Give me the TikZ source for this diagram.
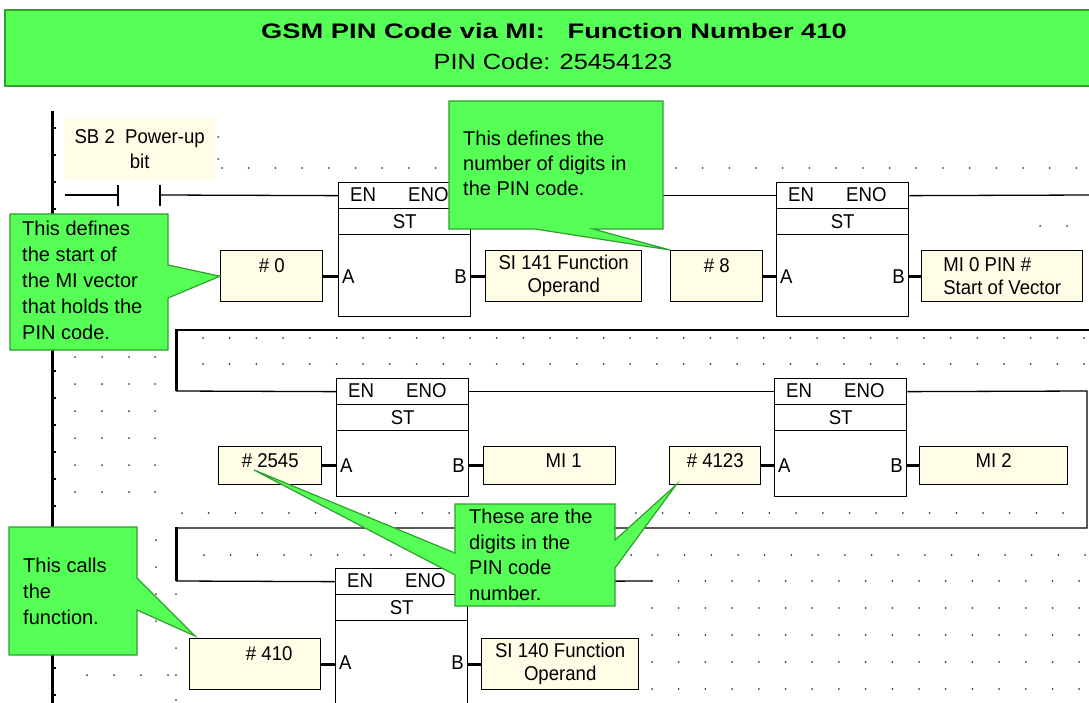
\documentclass[tikz,border=0pt]{standalone}
\usepackage{fontspec}
\setmainfont{Liberation Sans}
\newfontfamily\headfont[FakeStretch=1.3]{Liberation Sans}
\newfontfamily\subheadfont[FakeStretch=1.15]{Liberation Sans}
\newfontfamily\ladderfont[FakeStretch=0.93]{Liberation Sans}
\definecolor{notegreen}{HTML}{55FF55}
\definecolor{noteedge}{HTML}{2F9F2F}
\definecolor{tagfill}{HTML}{FFFDE6}
\definecolor{griddot}{HTML}{404040}

\tikzset{
  wire/.style={line width=1.3pt},
  stub/.style={line width=2.8pt},
  railline/.style={line width=3pt},
  rowbox/.style={draw, line width=1.3pt, minimum width=132pt, minimum height=26pt, inner sep=0pt, font=\ladderfont\fontsize{20}{22}\selectfont},
  pinlbl/.style={inner sep=0pt, font=\ladderfont\fontsize{20}{22}\selectfont},
  tagbox/.style={draw, line width=1.4pt, fill=tagfill, inner sep=0pt, anchor=north west, align=center, font=\ladderfont\fontsize{20}{23}\selectfont},
  onetop/.style={text height=14pt, text depth=#1},
  callout/.style={fill=notegreen, draw=noteedge, line width=1.2pt, line join=miter},
  notetext/.style={anchor=north west, align=left, inner sep=0pt},
  pics/stblock/.style 2 args={code={
    \node[rowbox, anchor=north west] (-top) at (0,0) {};
    \node[pinlbl, anchor=west] at (12,13) {EN};
    \node[pinlbl, anchor=west] at (70,13) {ENO};
    \node[rowbox, anchor=north west] (-st) at (0,26) {ST};
    \node[rowbox, anchor=north west, minimum height=#1] (-body) at (0,52) {};
    \node[pinlbl, anchor=west] (-a) at (4,52+#2) {A};
    \node[pinlbl, anchor=east] (-b) at (129,52+#2) {B};
  }}
}

\begin{document}
\begin{tikzpicture}[x=1pt, y=-1pt]
\useasboundingbox (0,0) rectangle (1089,703);
\fill[white] (0,0) rectangle (1089,703);

% title bar
\filldraw[fill=notegreen, draw=noteedge, line width=1.5pt] (5,10) rectangle (1095,86);
\node[font=\headfont\bfseries\fontsize{21}{24}\selectfont] (title) at (554,31) {GSM PIN Code via MI:\ \ \ Function Number 410};
\node[font=\subheadfont\fontsize{22}{24}\selectfont] (subtitle) at (553,62) {PIN Code: 25454123};

% grid dots
\foreach \y in {137,159} \fill[griddot] (218,\y) circle[radius=1pt];
\foreach \x in {222,248.7,...,1086} \fill[griddot] (\x,168) circle[radius=1pt];
\foreach \x in {1040,1067} \fill[griddot] (\x,226) circle[radius=1pt];
\foreach \y in {338,364}
  \foreach \x in {203,229.7,...,1086} \fill[griddot] (\x,\y) circle[radius=1pt];
\foreach \y in {357,384,...,513}
  \foreach \x in {75,102,129,155} \fill[griddot] (\x,\y) circle[radius=1pt];
\foreach \x in {182,208.7,...,1086} \fill[griddot] (\x,513) circle[radius=1pt];
\foreach \x in {204,230.7,...,1086} \fill[griddot] (\x,555) circle[radius=1pt];
\foreach \y in {581,608,635,662,689}
  \foreach \x in {652,678.7,...,1086} \fill[griddot] (\x,\y) circle[radius=1pt];
\foreach \y in {540,567,594,621} \fill[griddot] (156,\y) circle[radius=1pt];
\foreach \y in {594,621,648,675,700} \fill[griddot] (176,\y) circle[radius=1pt];
\foreach \x in {87,114,141,168} \fill[griddot] (\x,675) circle[radius=1pt];

% power rail
\draw[railline] (52,111) -- (52,705);
\foreach \y in {128,155,...,700} \draw[wire] (52,\y) -- (56,\y);

% rung 1
\node[fill=tagfill, anchor=north west, minimum width=151pt, minimum height=62pt, inner sep=0pt, align=center, font=\ladderfont\fontsize{20}{25}\selectfont] (sb2) at (64,118) {SB 2\ \ Power-up\\bit};
\coordinate (c0) at (65,195);
\coordinate (cl) at (118,195);
\coordinate (cr) at (160,195);
\draw[wire] (c0) -- (cl);
\draw[wire] (118,185) -- (118,206);
\draw[wire] (160,185) -- (160,206);
\pic (fb1) at (338,182) {stblock={82}{43}};
\pic (fb2) at (776,182) {stblock={82}{43}};
\draw[wire] (cr) -- (fb1-top.west);
\draw[wire] (fb1-top.east) -- (fb2-top.west);
\coordinate (r1) at (1092,195);
\draw[wire] (fb2-top.east) -- (r1);
\node[tagbox, onetop=21pt, minimum width=102pt, minimum height=51pt] (in1) at (220,250) {\# 0};
\node[tagbox, minimum width=156pt, minimum height=51pt] (out1) at (485,250) {SI 141 Function\\Operand};
\node[tagbox, onetop=21pt, minimum width=92pt, minimum height=51pt] (in2) at (670,250) {\# 8};
\node[tagbox, align=left, minimum width=161pt, minimum height=51pt] (out2) at (921,250) {MI 0 PIN \#\\Start of Vector};
\draw[stub] (in1.east) -- (in1.east -| fb1-body.west);
\draw[stub] (fb1-body.east |- out1.west) -- (out1.west);
\draw[stub] (in2.east) -- (in2.east -| fb2-body.west);
\draw[stub] (fb2-body.east |- out2.west) -- (out2.west);

% rung 2
\coordinate (w1) at (1092,330);
\coordinate (w2) at (176,330);
\coordinate (w3) at (176,391);
\draw[wire] (w1) -- (w2);
\draw[railline] (176,329) -- (w3);
\pic (fb3) at (336,378) {stblock={66}{36}};
\pic (fb4) at (774,378) {stblock={66}{36}};
\draw[wire] (w3) -- (fb3-top.west);
\draw[wire] (fb3-top.east) -- (fb4-top.west);
\node[tagbox, onetop=10pt, minimum width=103pt, minimum height=38pt] (in3) at (218,446) {\# 2545};
\node[tagbox, onetop=10pt, minimum width=132pt, minimum height=38pt] (out3) at (483,446) {\hspace*{28pt}MI 1};
\node[tagbox, onetop=10pt, minimum width=91pt, minimum height=38pt] (in4) at (669,446) {\# 4123};
\node[tagbox, onetop=10pt, minimum width=148pt, minimum height=38pt] (out4) at (919,446) {MI 2};
\draw[stub] (in3.east) -- (in3.east -| fb3-body.west);
\draw[stub] (fb3-body.east |- out3.west) -- (out3.west);
\draw[stub] (in4.east) -- (in4.east -| fb4-body.west);
\draw[stub] (fb4-body.east |- out4.west) -- (out4.west);

% rung 3
\coordinate (w4) at (1087,391);
\coordinate (w5) at (1087,528);
\coordinate (w6) at (176,528);
\coordinate (w7) at (176,581);
\draw[wire] (fb4-top.east) -- (w4) -- (w5) -- (w6);
\draw[railline] (176,527) -- (w7);
\pic (fb5) at (335,568) {stblock={100}{43}};
\draw[wire] (w7) -- (fb5-top.west);
\coordinate (w8) at (652,581);
\draw[wire] (fb5-top.east) -- (w8);
\node[tagbox, onetop=21pt, minimum width=131pt, minimum height=51pt] (in5) at (189,638) {\hspace*{28pt}\# 410};
\node[tagbox, minimum width=157pt, minimum height=51pt] (out5) at (481,638) {SI 140 Function\\Operand};
\draw[stub] (in5.east) -- (in5.east -| fb5-body.west);
\draw[stub] (fb5-body.east |- out5.west) -- (out5.west);

% notes
\filldraw[callout] (10,214) -- (168,214) -- (168,265) -- (in1.west) -- (168,298) -- (168,350) -- (10,350) -- cycle;
\node[notetext, font=\fontsize{20}{26}\selectfont] (note1) at (22,221) {This defines\\the start of\\the MI vector\\that holds the\\PIN code.};
\filldraw[callout] (449,101) -- (663,101) -- (663,229) -- (593,229) -- (in2.north west) -- (535,229) -- (449,229) -- cycle;
\node[notetext, font=\fontsize{20}{25}\selectfont] (note2) at (463,131) {This defines the\\number of digits in\\the PIN code.};
\filldraw[callout] (9,527) -- (137,527) -- (137,578) -- (195,636) -- (137,610) -- (137,655) -- (9,655) -- cycle;
\node[notetext, font=\fontsize{20}{26}\selectfont] (note3) at (23,558) {This calls\\the\\function.};
\filldraw[callout] (455,504) -- (615,504) -- (615,540) -- (676,485) -- (615,568) -- (615,606) -- (455,606) -- (455,575) -- (254,470) -- (455,553) -- cycle;
\node[notetext, font=\fontsize{20}{25.5}\selectfont] (note4) at (469,509) {These are the\\digits in the\\PIN code\\number.};
\end{tikzpicture}
\end{document}
